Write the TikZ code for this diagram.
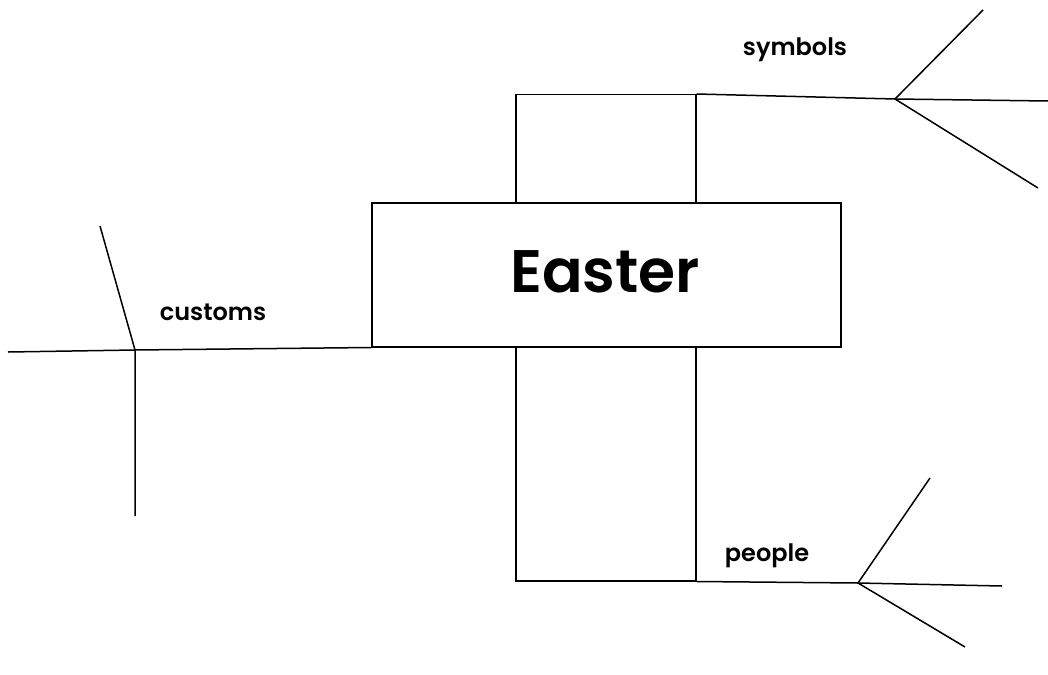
\documentclass[tikz,border=0pt]{standalone}
\usepackage{fontspec}
\setmainfont{Poppins}
\newfontfamily\medfont{Poppins SemiBold}
\begin{document}
\begin{tikzpicture}[x=1pt,y=-1pt,
  box/.style={draw,line width=1.5pt,inner sep=0pt,anchor=north west},
  ln/.style={line width=1.5pt},
  lbl/.style={font=\fontsize{24}{26}\medfont}]
\useasboundingbox (0,0) rectangle (1048,674);
\node[box,minimum width=180pt,minimum height=108pt] (top) at (515,94) {};
\node[box,minimum width=180pt,minimum height=234pt] (bot) at (515,346) {};
\node[box,fill=white,minimum width=469pt,minimum height=144pt] (easter) at (371,202) {};
\node[font=\fontsize{60}{62}\medfont] (et) at (605,272) {Easter};
% symbols
\coordinate (sj) at (895,99);
\coordinate (s1) at (1048,101);
\coordinate (s2) at (983,10);
\coordinate (s3) at (1038,188);
\draw[ln] (top.north east) -- (sj) -- (s1);
\draw[ln] (s2) -- (sj) -- (s3);
\node[lbl] (sl) at (795,50) {symbols};
% customs
\coordinate (cj) at (135,350);
\coordinate (c1) at (8,352);
\coordinate (c2) at (100,226);
\coordinate (c3) at (135,516);
\draw[ln] (easter.south west) -- (cj) -- (c1);
\draw[ln] (c2) -- (cj) -- (c3);
\node[lbl] (cl) at (213,312) {customs};
% people
\coordinate (pj) at (858,583);
\coordinate (p1) at (1002,586);
\coordinate (p2) at (930,478);
\coordinate (p3) at (965,647);
\draw[ln] (bot.south east) -- (pj) -- (p1);
\draw[ln] (p2) -- (pj) -- (p3);
\node[lbl] (pl) at (767,556) {people};
\end{tikzpicture}
\end{document}
